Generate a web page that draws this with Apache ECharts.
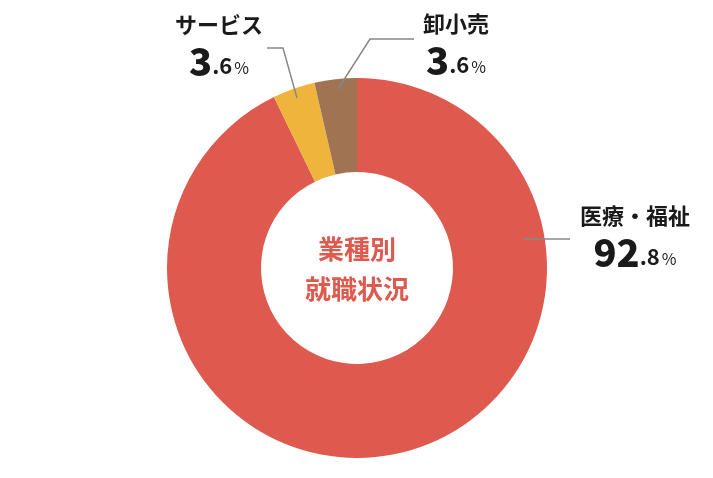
<!DOCTYPE html>
<html>
<head>
<meta charset="utf-8">
<script src="https://cdn.jsdelivr.net/npm/echarts@6/dist/echarts.min.js"></script>
<style>
html,body{margin:0;padding:0;background:#fff;}
#c{width:713px;height:478px;}
</style>
</head>
<body>
<div id="c"></div>
<script>
const categories = ['医療・福祉', 'サービス', '卸小売'];
const values = [92.8, 3.6, 3.6];
const colors = ['#df5a4e', '#efb43b', '#a07452'];
const centerTitle = '業種別\n就職状況';

const FONT = '"Noto Sans CJK JP", "Noto Sans", sans-serif';

// label placement (block center) and leader line points per slice
const labelPlacement = [
  { x: 635, y: 236, line: [[523, 239], [547, 239], [570, 239]] },
  { x: 219, y: 45, line: [[297, 98], [283, 48], [267, 48]] },
  { x: 456, y: 44, line: [[338, 89], [370, 39], [414, 39]] }
];

const chart = echarts.init(document.getElementById('c'), null, { renderer: 'canvas' });

chart.setOption({
  backgroundColor: '#ffffff',
  animation: false,
  graphic: [{
    type: 'text',
    x: 357,
    y: 269,
    style: {
      text: centerTitle,
      fill: '#df5a4e',
      font: 'bold 26px ' + FONT,
      lineHeight: 40,
      align: 'center',
      verticalAlign: 'middle'
    }
  }].concat(labelPlacement.map(p => ({
    type: 'polyline',
    z: 100,
    silent: true,
    shape: { points: p.line },
    style: { stroke: '#888', lineWidth: 1.5, fill: null }
  }))),
  series: [{
    type: 'pie',
    center: [357, 268],
    radius: [96, 190],
    startAngle: 90,
    clockwise: true,
    silent: true,
    avoidLabelOverlap: false,
    emphasis: { disabled: true },
    data: categories.map((c, i) => ({ name: c, value: values[i], itemStyle: { color: colors[i] } })),
    label: {
      show: true,
      position: 'outside',
      fontFamily: FONT,
      color: '#222',
      formatter: function (p) {
        const s = p.value.toFixed(1).split('.');
        return '{n|' + p.name + '}\n{v|' + s[0] + '}{d|.' + s[1] + '}{p|%}';
      },
      rich: {
        n: { fontSize: 22, fontWeight: 'bold', fontFamily: FONT, color: '#1a1a1a', lineHeight: 32 },
        v: { fontSize: 38, fontWeight: 900, fontFamily: FONT, color: '#1a1a1a', lineHeight: 40, verticalAlign: 'bottom' },
        d: { fontSize: 22, fontWeight: 'bold', fontFamily: FONT, color: '#1a1a1a', lineHeight: 26, verticalAlign: 'bottom', padding: [0, 0, 4, 0] },
        p: { fontSize: 16, fontWeight: 'normal', fontFamily: FONT, color: '#1a1a1a', lineHeight: 20, verticalAlign: 'bottom', padding: [0, 0, 5, 2] }
      }
    },
    labelLine: { show: false },
    labelLayout: function (params) {
      const p = labelPlacement[params.dataIndex];
      return {
        x: p.x,
        y: p.y,
        align: 'center',
        verticalAlign: 'middle'
      };
    }
  }]
});
</script>
</body>
</html>
